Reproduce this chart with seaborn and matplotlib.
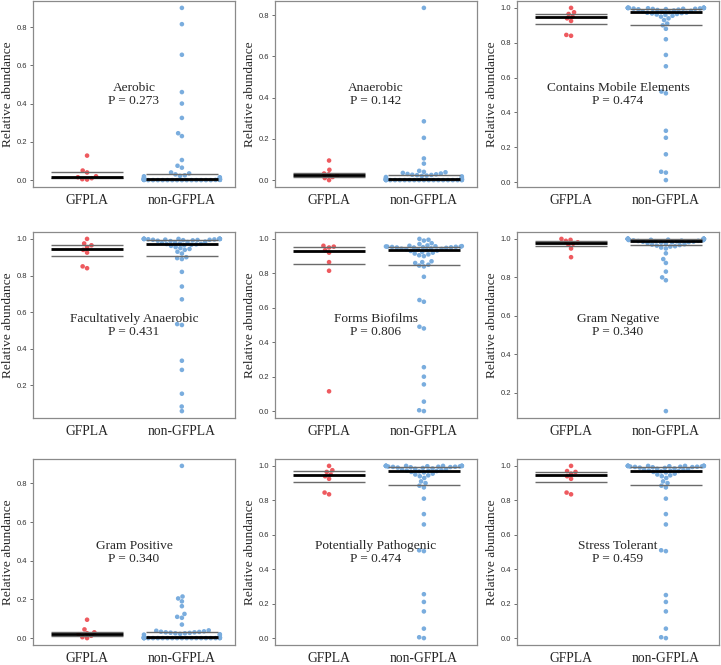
import numpy as np
import pandas as pd
import matplotlib
matplotlib.use("Agg")
import matplotlib.pyplot as plt
from matplotlib.ticker import MultipleLocator
import seaborn as sns

# valores (abundancia relativa por amostra)
groups = ["GFPLA", "non-GFPLA"]
colors = ["#EE5A5F", "#7AADDE"]

aerobic_gf = [0.128, 0.05, 0.04, 0.02, 0.015, 0.01, 0.005, 0.003]
aerobic_non = [0.90, 0.815, 0.655, 0.46, 0.40, 0.325, 0.245, 0.23, 0.105, 0.075,
               0.065, 0.04, 0.035, 0.03, 0.025, 0.022, 0.02, 0.015, 0.012, 0.01,
               0.01, 0.008, 0.006, 0.005, 0.005, 0.004, 0.004, 0.003, 0.003, 0.002,
               0.002, 0.002, 0.001, 0.001, 0.001, 0.001, 0.0, 0.0, 0.0, 0.0,
               0.0, 0.0, 0.0, 0.0, 0.0, 0.0, 0.0, 0.0, 0.0, 0.0]

anaerobic_gf = [0.095, 0.05, 0.032, 0.028, 0.022, 0.015, 0.01, 0.0]
anaerobic_non = [0.835, 0.285, 0.205, 0.105, 0.08, 0.045, 0.04, 0.038, 0.035, 0.032,
                 0.03, 0.028, 0.026, 0.025, 0.024, 0.022, 0.02, 0.018, 0.015, 0.012,
                 0.01, 0.008, 0.006, 0.005, 0.005, 0.004, 0.003, 0.003, 0.002, 0.002,
                 0.001, 0.001, 0.001, 0.0, 0.0, 0.0, 0.0, 0.0, 0.0, 0.0,
                 0.0, 0.0, 0.0, 0.0, 0.0, 0.0, 0.0, 0.0, 0.0, 0.0]

mobile_gf = [1.0, 0.975, 0.965, 0.95, 0.94, 0.925, 0.845, 0.84]
mobile_non = [1.0, 1.0, 1.0, 1.0, 1.0, 1.0, 1.0, 1.0, 1.0, 1.0,
              0.998, 0.997, 0.996, 0.995, 0.995, 0.994, 0.993, 0.992, 0.99, 0.988,
              0.985, 0.983, 0.98, 0.978, 0.975, 0.973, 0.972, 0.97, 0.968, 0.965,
              0.962, 0.96, 0.955, 0.95, 0.94, 0.93, 0.91, 0.9, 0.88, 0.82,
              0.73, 0.665, 0.52, 0.51, 0.295, 0.255, 0.16, 0.06, 0.055, 0.012]

facult_gf = [1.0, 0.975, 0.965, 0.955, 0.94, 0.925, 0.85, 0.84]
facult_non = [1.0, 1.0, 1.0, 1.0, 1.0, 1.0, 1.0, 1.0, 1.0, 1.0,
              0.998, 0.997, 0.996, 0.995, 0.995, 0.994, 0.993, 0.992, 0.99, 0.988,
              0.985, 0.983, 0.98, 0.978, 0.975, 0.973, 0.972, 0.97, 0.968, 0.965,
              0.962, 0.955, 0.95, 0.945, 0.94, 0.93, 0.92, 0.9, 0.895, 0.89,
              0.82, 0.74, 0.67, 0.535, 0.53, 0.335, 0.285, 0.155, 0.085, 0.06]

biofilm_gf = [0.96, 0.955, 0.95, 0.935, 0.92, 0.865, 0.815, 0.115]
biofilm_non = [1.0, 0.995, 0.99, 0.975, 0.97, 0.962, 0.96, 0.958, 0.957, 0.956,
               0.955, 0.955, 0.954, 0.953, 0.952, 0.951, 0.95, 0.95, 0.948, 0.945,
               0.943, 0.942, 0.94, 0.938, 0.935, 0.932, 0.93, 0.925, 0.92, 0.915,
               0.91, 0.905, 0.9, 0.87, 0.865, 0.86, 0.85, 0.845, 0.84, 0.78,
               0.645, 0.635, 0.49, 0.48, 0.255, 0.2, 0.155, 0.055, 0.005, 0.0]

gramneg_gf = [1.0, 0.995, 0.99, 0.982, 0.975, 0.97, 0.95, 0.905]
gramneg_non = [1.0, 1.0, 1.0, 1.0, 1.0, 1.0, 1.0, 1.0, 1.0, 1.0,
               1.0, 1.0, 1.0, 1.0, 1.0, 0.999, 0.998, 0.997, 0.996, 0.995,
               0.994, 0.993, 0.992, 0.991, 0.99, 0.989, 0.988, 0.987, 0.986, 0.985,
               0.983, 0.982, 0.98, 0.978, 0.975, 0.972, 0.97, 0.968, 0.965, 0.962,
               0.96, 0.955, 0.95, 0.925, 0.895, 0.875, 0.83, 0.8, 0.785, 0.105]

grampos_gf = [0.095, 0.045, 0.03, 0.025, 0.02, 0.012, 0.005, 0.0]
grampos_non = [0.89, 0.215, 0.205, 0.19, 0.165, 0.125, 0.11, 0.105, 0.07, 0.04,
               0.038, 0.035, 0.033, 0.032, 0.03, 0.03, 0.028, 0.027, 0.025, 0.025,
               0.022, 0.02, 0.018, 0.015, 0.006, 0.005, 0.004, 0.003, 0.002, 0.002,
               0.001, 0.001, 0.0, 0.0, 0.0, 0.0, 0.0, 0.0, 0.0, 0.0,
               0.0, 0.0, 0.0, 0.0, 0.0, 0.0, 0.0, 0.0, 0.0, 0.0]

pathogen_gf = [1.0, 0.975, 0.965, 0.95, 0.94, 0.925, 0.845, 0.835]
pathogen_non = [1.0, 1.0, 1.0, 1.0, 1.0, 1.0, 1.0, 1.0, 1.0, 0.998,
                0.997, 0.996, 0.995, 0.995, 0.994, 0.993, 0.992, 0.99, 0.988, 0.985,
                0.983, 0.98, 0.978, 0.975, 0.973, 0.972, 0.97, 0.968, 0.965, 0.962,
                0.955, 0.95, 0.945, 0.94, 0.93, 0.91, 0.9, 0.885, 0.875, 0.81,
                0.72, 0.66, 0.51, 0.505, 0.255, 0.21, 0.155, 0.055, 0.005, 0.0]

stress_gf = [1.0, 0.97, 0.965, 0.955, 0.94, 0.925, 0.845, 0.835]
stress_non = [1.0, 1.0, 1.0, 1.0, 1.0, 1.0, 1.0, 1.0, 1.0, 0.998,
              0.997, 0.996, 0.995, 0.995, 0.994, 0.993, 0.992, 0.99, 0.988, 0.985,
              0.983, 0.98, 0.978, 0.975, 0.973, 0.972, 0.97, 0.968, 0.965, 0.962,
              0.955, 0.95, 0.945, 0.94, 0.93, 0.91, 0.9, 0.885, 0.875, 0.81,
              0.72, 0.66, 0.51, 0.505, 0.25, 0.21, 0.155, 0.055, 0.005, 0.0]

titles = ["Aerobic", "Anaerobic", "Contains Mobile Elements",
          "Facultatively Anaerobic", "Forms Biofilms", "Gram Negative",
          "Gram Positive", "Potentially Pathogenic", "Stress Tolerant"]
pvalues = ["0.273", "0.142", "0.474", "0.431", "0.806", "0.340", "0.340", "0.474", "0.459"]
gf_data = [aerobic_gf, anaerobic_gf, mobile_gf, facult_gf, biofilm_gf,
           gramneg_gf, grampos_gf, pathogen_gf, stress_gf]
non_data = [aerobic_non, anaerobic_non, mobile_non, facult_non, biofilm_non,
            gramneg_non, grampos_non, pathogen_non, stress_non]

sns.set_style("white")
plt.rcParams["font.family"] = ["Liberation Serif", "DejaVu Serif"]

fig = plt.figure(figsize=(7.21, 6.65), dpi=100)
W, H = 721.0, 665.0
lefts = [33, 275, 517]
tops = [1, 232, 459]
aw, ah = 202, 186

for k in range(9):
    r, c = divmod(k, 3)
    ax = fig.add_axes([lefts[c] / W, (H - tops[r] - ah) / H, aw / W, ah / H])
    gf, non = gf_data[k], non_data[k]
    df = pd.DataFrame({"group": ["GFPLA"] * len(gf) + ["non-GFPLA"] * len(non),
                       "value": gf + non})
    sns.swarmplot(data=df, x="group", y="value", hue="group", order=groups,
                  hue_order=groups, palette=colors, size=3.3, legend=False,
                  warn_thresh=1, ax=ax, zorder=2)

    # mediana e quartis
    for i, vals in enumerate([gf, non]):
        q1, med, q3 = np.percentile(vals, [25, 50, 75])
        ax.hlines([q1, q3], i - 0.38, i + 0.38, color="#6a6a6a", lw=1.0, zorder=3)
        ax.hlines(med, i - 0.38, i + 0.38, color="black", lw=2.0, zorder=4)

    allv = np.array(gf + non)
    lo, hi = allv.min(), allv.max()
    pad = 0.04 * (hi - lo)
    ax.set_ylim(lo - pad, hi + pad)
    ax.set_xlim(-0.57, 1.56)
    ax.yaxis.set_major_locator(MultipleLocator(0.2))
    ax.yaxis.set_major_formatter(matplotlib.ticker.FormatStrFormatter("%.1f"))

    ax.set_xlabel("")
    ax.set_ylabel("Relative abundance", fontsize=9.6, labelpad=2)
    ax.tick_params(axis="y", left=True, length=2.5, width=0.6, pad=1.5,
                   labelsize=5.5, labelcolor="#333333", color="#555555")
    for t in ax.get_yticklabels():
        t.set_family("Liberation Sans")
    ax.tick_params(axis="x", bottom=False, labelsize=9.8, pad=1.5)

    for s in ax.spines.values():
        s.set_color("#8a8a8a")
        s.set_linewidth(0.9)

    ax.text(0.5, 0.495, titles[k] + "\nP = " + pvalues[k], transform=ax.transAxes,
            ha="center", va="center", fontsize=9.6, linespacing=1.1, zorder=5)

fig.savefig("out.png", dpi=100)
